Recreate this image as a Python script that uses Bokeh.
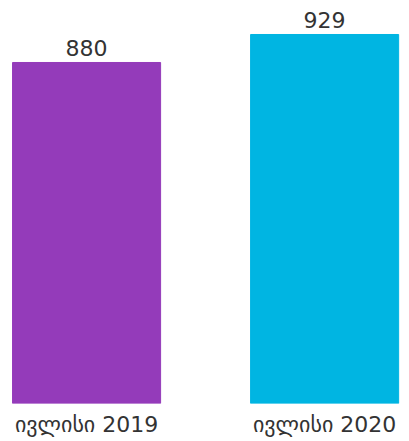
from bokeh.plotting import figure
from bokeh.models import ColumnDataSource, Range1d, FixedTicker, LabelSet
from bokeh.core.properties import value
from bokeh.embed import file_html
from bokeh.resources import INLINE

categories = ["ივლისი 2019", "ივლისი 2020"]
values = [880, 929]
colors = ["#943BBA", "#00B5E2"]
positions = [0, 1]

src = ColumnDataSource(dict(x=positions, top=values, color=colors,
                            label=[str(v) for v in values]))

p = figure(width=401, height=441, output_backend="svg", toolbar_location=None,
           x_range=Range1d(-0.328, 1.323), y_range=Range1d(283.2, 974.5),
           min_border_left=8, min_border_right=0, min_border_top=8, min_border_bottom=38)

p.vbar(x="x", top="top", bottom=283.2, width=0.622, color="color", source=src)

labels = LabelSet(x="x", y="top", text="label", source=src, text_align="center",
                  text_baseline="bottom", y_offset=6, text_font_size="22px",
                  text_color="#333333", text_font=value("DejaVu Sans"))
p.add_layout(labels)

p.xaxis.ticker = FixedTicker(ticks=positions)
p.xaxis.major_label_overrides = {pos: c for pos, c in zip(positions, categories)}
p.xaxis.axis_line_color = None
p.xaxis.major_tick_line_color = None
p.xaxis.minor_tick_line_color = None
p.xaxis.major_label_text_font_size = "22px"
p.xaxis.major_label_text_font = "DejaVu Sans"
p.xaxis.major_label_text_color = "#333333"
p.xaxis.major_label_standoff = 2
p.yaxis.visible = False
p.xgrid.visible = False
p.ygrid.visible = False
p.outline_line_color = None

open("out.html", "w").write(file_html(p, INLINE))
